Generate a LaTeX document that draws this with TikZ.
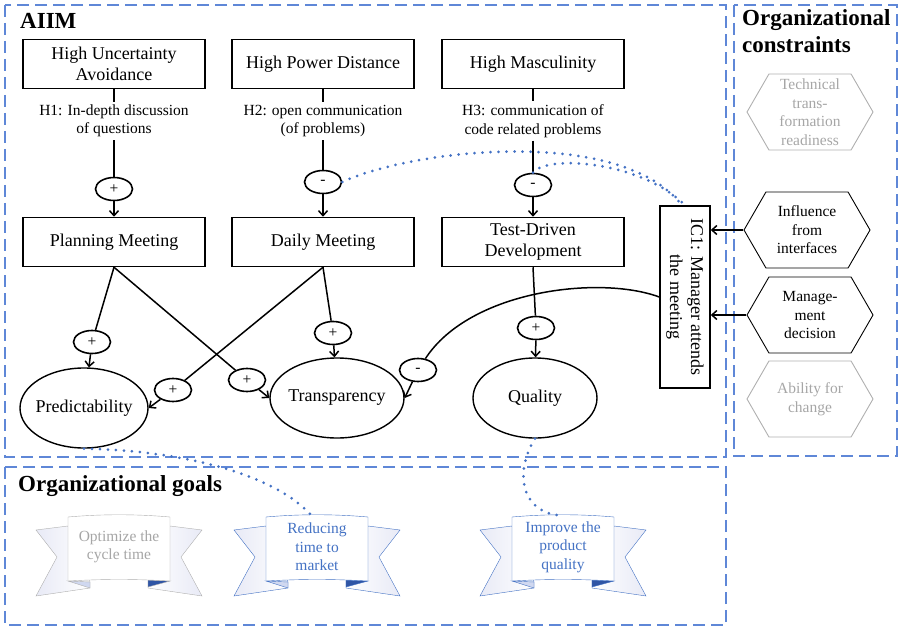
\documentclass[tikz,border=0pt]{standalone}
\usepackage{fontspec}
\setmainfont{Liberation Serif}
\usepackage{tikz}
\usetikzlibrary{shapes.geometric,shapes.symbols,arrows.meta}

\definecolor{dashblue}{RGB}{95,135,215}
\definecolor{dotblue}{RGB}{68,114,196}
\definecolor{ribblue}{RGB}{68,114,196}
\definecolor{darkfold}{RGB}{47,85,165}
\definecolor{lightfold}{RGB}{208,216,240}
\definecolor{tailfill}{RGB}{232,234,246}
\definecolor{greyline}{RGB}{175,175,175}
\definecolor{greytext}{RGB}{166,166,166}

\newcommand{\mainfs}{\fontsize{18}{21}\selectfont}
\newcommand{\smallfs}{\fontsize{15.5}{18.5}\selectfont}
\newcommand{\titlefs}{\fontsize{23}{27}\selectfont\bfseries}

% ribbon: name, top centre, line colour, text colour, text
\newcommand{\goalribbon}[5]{%
  \begin{scope}[shift={#2}]
    \draw[draw=#3, left color=tailfill, right color=white] (-51,10) -- (-83,14) -- (-62,41) -- (-83,80) -- (-29,72) -- (-29,66) -- cycle;
    \draw[draw=#3, left color=white, right color=tailfill] (51,10) -- (83,14) -- (62,41) -- (83,80) -- (29,72) -- (29,65) -- cycle;
    \filldraw[draw=#3, fill=lightfold] (-51,65) -- (-29,66) -- (-29,72) -- cycle;
    \filldraw[draw=#3, fill=darkfold] (29,64) -- (51,65) -- (29,71) -- cycle;
    \filldraw[draw=#3, fill=white] (-51,1) .. controls (-17,-2) and (17,-2) .. (51,1)
      -- (51,65) .. controls (17,63) and (-17,63) .. (-51,65) -- cycle;
    \coordinate (#1top) at (-6,-1);
    \node[text=#4, font=\smallfs, align=center] (#1) at (0,31) {#5};
  \end{scope}}

\begin{document}
\begin{tikzpicture}[x=1pt,y=-1pt, >={Straight Barb[length=5pt,width=9pt]},
    box/.style={draw, line width=1.5pt, minimum width=182, minimum height=49, align=center, font=\mainfs},
    hyp/.style={align=center, font=\smallfs, inner sep=3pt},
    sign/.style={draw, ellipse, line width=1.6pt, minimum width=37, minimum height=23, inner sep=0pt, font=\smallfs},
    goal/.style={draw, ellipse, line width=1.4pt, font=\mainfs, minimum height=80, inner xsep=-25pt, inner ysep=0pt},
    hexa/.style={draw, signal, signal to=west and east, signal pointer angle=120, line width=0.9pt,
      minimum width=126, minimum height=76, align=center, font=\smallfs, inner sep=1pt},
    greyhexa/.style={hexa, draw=greyline, text=greytext},
    dashbox/.style={draw=dashblue, line width=1.6pt, dash pattern=on 12pt off 6pt},
    dotline/.style={draw=dotblue, line width=3pt, line cap=round, dash pattern=on 0pt off 8pt},
    link/.style={line width=1.5pt},
    title/.style={font=\titlefs, inner sep=0pt}]
    \useasboundingbox (0,0) rectangle (901,628);

    % frames
    \draw[dashbox] (5,5) rectangle (726,457);
    \draw[dashbox] (734,5) rectangle (897,456);
    \draw[dashbox] (5,467) rectangle (726,625);
    \node[title, anchor=base west] (aiim) at (20,29) {AIIM};
    \node[title, anchor=north west, align=left] (orgcons) at (742,9) {Organizational\\constraints};
    \node[title, anchor=base west] (orggoals) at (18,491) {Organizational goals};

    % culture dimensions and hypotheses
    \node[box] (hua) at (114,64) {High Uncertainty\\Avoidance};
    \node[box] (hpd) at (323,64) {High Power Distance};
    \node[box] (hmas) at (533,64) {High Masculinity};
    \node[hyp] (hyp1) at (114,121) {H1: In-depth discussion\\of questions};
    \node[hyp] (hyp2) at (323,121) {H2: open communication\\(of problems)};
    \node[hyp] (hyp3) at (533,121) {H3: communication of\\code related problems};
    \node[sign] (sgnA) at (114,189) {+};
    \node[sign] (sgnB) at (323,182) {-};
    \node[sign] (sgnC) at (533,185) {-};

    % practices
    \node[box] (plan) at (114,242) {Planning Meeting};
    \node[box] (daily) at (323,242) {Daily Meeting};
    \node[box] (tdd) at (533,242) {Test-Driven\\Development};

    \draw[link] (hua) -- (hyp1) -- (sgnA);
    \draw[link] (hpd) -- (hyp2) -- (sgnB);
    \draw[link] (hmas) -- (hyp3) -- (sgnC);
    \draw[link,->] (sgnA) -- (plan);
    \draw[link,->] (sgnB) -- (daily);
    \draw[link,->] (sgnC) -- (tdd);

    % outcomes
    \node[goal, minimum width=128] (pred) at (84,408) {Predictability};
    \node[goal, minimum width=134] (transp) at (337,398) {Transparency};
    \node[goal, minimum width=124] (qual) at (535,398) {Quality};

    \node[sign] (sgnD) at (92,342) {+};
    \node[sign] (sgnE) at (247,380) {+};
    \node[sign] (sgnF) at (173,390) {+};
    \node[sign] (sgnG) at (333,333) {+};
    \node[sign] (sgnH) at (536,328) {+};
    \node[sign] (sgnI) at (418,370) {-};

    \draw[link] (plan.south) -- (sgnD);
    \draw[link,->] (sgnD) -- (pred);
    \draw[link] (plan.south) -- (sgnE);
    \draw[link,->] (sgnE) -- (transp.west);
    \draw[link] (daily.south) -- (sgnF);
    \draw[link,->] (sgnF) -- (pred.east);
    \draw[link] (daily.south) -- (sgnG);
    \draw[link,->] (sgnG) -- (transp);
    \draw[link] (tdd.south) -- (sgnH);
    \draw[link,->] (sgnH) -- (qual);

    % interface condition
    \node[draw, line width=1.5pt, rotate=-90, minimum width=182, minimum height=50, align=center, font=\mainfs,
      inner sep=2pt] (ic1) at (685,297) {IC1: Manager attends\\the meeting};
    \draw[link] (ic1.south) .. controls (600,275) and (470,290) .. (sgnI);
    \draw[link,->] (sgnI) -- (transp.east);

    % constraints
    \node[greyhexa] (techready) at (810,112) {Technical\\trans-\\formation\\readiness};
    \node[hexa] (influence) at (807,230) {Influence\\from\\interfaces};
    \node[hexa] (mgmt) at (810,315) {Manage-\\ment\\decision};
    \node[greyhexa] (ability) at (810,399) {Ability for\\change};
    \draw[link,->] (influence.west) -- (influence.west -| ic1.north);
    \draw[link,->] (mgmt.west) -- (mgmt.west -| ic1.north);

    % goals
    \goalribbon{optcycle}{(119,516)}{greyline}{greytext}{Optimize the\\cycle time}
    \goalribbon{reduce}{(317,516)}{ribblue}{ribblue}{Reducing\\time to\\market}
    \goalribbon{improve}{(563,516)}{ribblue}{ribblue}{Improve the\\product\\quality}

    % dotted links
    \draw[dotline] (sgnB.east) .. controls (410,150) and (620,125) .. ([xshift=-3]ic1.west);
    \draw[dotline] (sgnC.north) .. controls (545,155) and (640,160) .. (ic1.west);
    \draw[dotline] (pred.south) .. controls (170,450) and (270,470) .. (reducetop);
    \draw[dotline] (qual.south) .. controls (515,470) and (520,510) .. (improvetop);
\end{tikzpicture}
\end{document}
